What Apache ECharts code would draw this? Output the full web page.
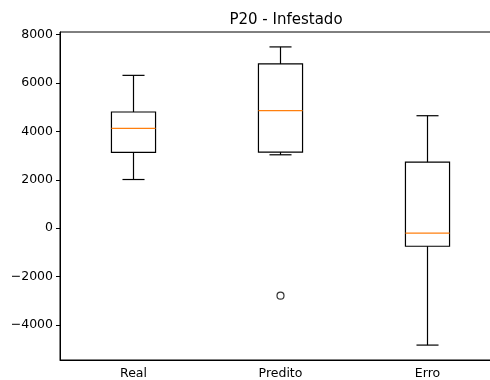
<!DOCTYPE html>
<html>
<head>
<meta charset="utf-8">
<script src="https://cdn.jsdelivr.net/npm/echarts@6/dist/echarts.min.js"></script>
<style>
  html, body { margin: 0; padding: 0; background: #fff; overflow: hidden; }
  #chart { width: 502px; height: 380px; }
</style>
</head>
<body>
<div id="chart"></div>
<script>
var categories = ['Real', 'Predito', 'Erro'];
var lowerWhisker = [2011, 3032, -4828];
var q1 = [3128, 3144, -745];
var median = [4121, 4853, -207];
var q3 = [4799, 6785, 2730];
var upperWhisker = [6313, 7488, 4646];
var outliers = [[1, -2788]];
var yTicks = [-4000, -2000, 0, 2000, 4000, 6000, 8000];

var font = 'DejaVu Sans';

var boxData = categories.map(function (c, i) {
    return [i, lowerWhisker[i], q1[i], median[i], q3[i], upperWhisker[i]];
});

// box, orange median, whiskers with half-width caps (matplotlib look)
function renderBox (params, api) {
    var idx = api.value(0);
    var band = api.size([1, 0])[0];
    var half = band * 0.15;
    var cap = half / 2;
    var pLow = api.coord([idx, api.value(1)]);
    var pQ1 = api.coord([idx, api.value(2)]);
    var pMed = api.coord([idx, api.value(3)]);
    var pQ3 = api.coord([idx, api.value(4)]);
    var pHigh = api.coord([idx, api.value(5)]);
    var x = pQ1[0];
    var line = { stroke: '#000', lineWidth: 1.2 };
    return {
        type: 'group',
        children: [
            { type: 'line', shape: { x1: x, y1: pQ1[1], x2: x, y2: pLow[1] }, style: line },
            { type: 'line', shape: { x1: x, y1: pQ3[1], x2: x, y2: pHigh[1] }, style: line },
            { type: 'line', shape: { x1: x - cap, y1: pLow[1], x2: x + cap, y2: pLow[1] }, style: line },
            { type: 'line', shape: { x1: x - cap, y1: pHigh[1], x2: x + cap, y2: pHigh[1] }, style: line },
            { type: 'rect', shape: { x: x - half, y: pQ3[1], width: half * 2, height: pQ1[1] - pQ3[1] },
              style: { fill: 'none', stroke: '#000', lineWidth: 1.2 } },
            { type: 'line', shape: { x1: x - half, y1: pMed[1], x2: x + half, y2: pMed[1] },
              style: { stroke: '#ff7f0e', lineWidth: 1.2 } }
        ]
    };
}

var myChart = echarts.init(document.getElementById('chart'));
myChart.setOption({
    animation: false,
    backgroundColor: '#fff',
    title: {
        text: 'P20 - Infestado',
        left: 281,
        textAlign: 'center',
        top: 8,
        textStyle: {
            fontFamily: font,
            fontSize: 15,
            fontWeight: 'normal',
            color: '#000'
        }
    },
    grid: {
        left: 60,
        top: 32,
        width: 441,
        height: 328,
        show: true,
        borderColor: '#000',
        borderWidth: 1,
        backgroundColor: '#fff'
    },
    xAxis: {
        type: 'category',
        data: categories,
        boundaryGap: true,
        axisLine: { onZero: false, lineStyle: { color: '#000', width: 1 } },
        axisTick: { alignWithLabel: true, length: 4, lineStyle: { color: '#000' } },
        axisLabel: {
            color: '#000',
            fontFamily: font,
            fontSize: 12.5,
            margin: 7
        },
        splitLine: { show: false }
    },
    yAxis: {
        type: 'value',
        min: -5444,
        max: 8104,
        axisLine: { show: true, onZero: false, lineStyle: { color: '#000', width: 1 } },
        axisTick: { show: true, length: 4, customValues: yTicks, lineStyle: { color: '#000' } },
        axisLabel: {
            color: '#000',
            fontFamily: font,
            fontSize: 12.5,
            margin: 7,
            customValues: yTicks,
            formatter: function (v) {
                return String(v).replace('-', '\u2212');
            }
        },
        splitLine: { show: false }
    },
    series: [{
        type: 'custom',
        renderItem: renderBox,
        encode: { x: 0, y: [1, 2, 3, 4, 5] },
        data: boxData
    }, {
        type: 'scatter',
        symbol: 'circle',
        symbolSize: 7,
        itemStyle: {
            color: 'none',
            borderColor: '#000',
            borderWidth: 1.2
        },
        data: outliers
    }]
});
</script>
</body>
</html>
